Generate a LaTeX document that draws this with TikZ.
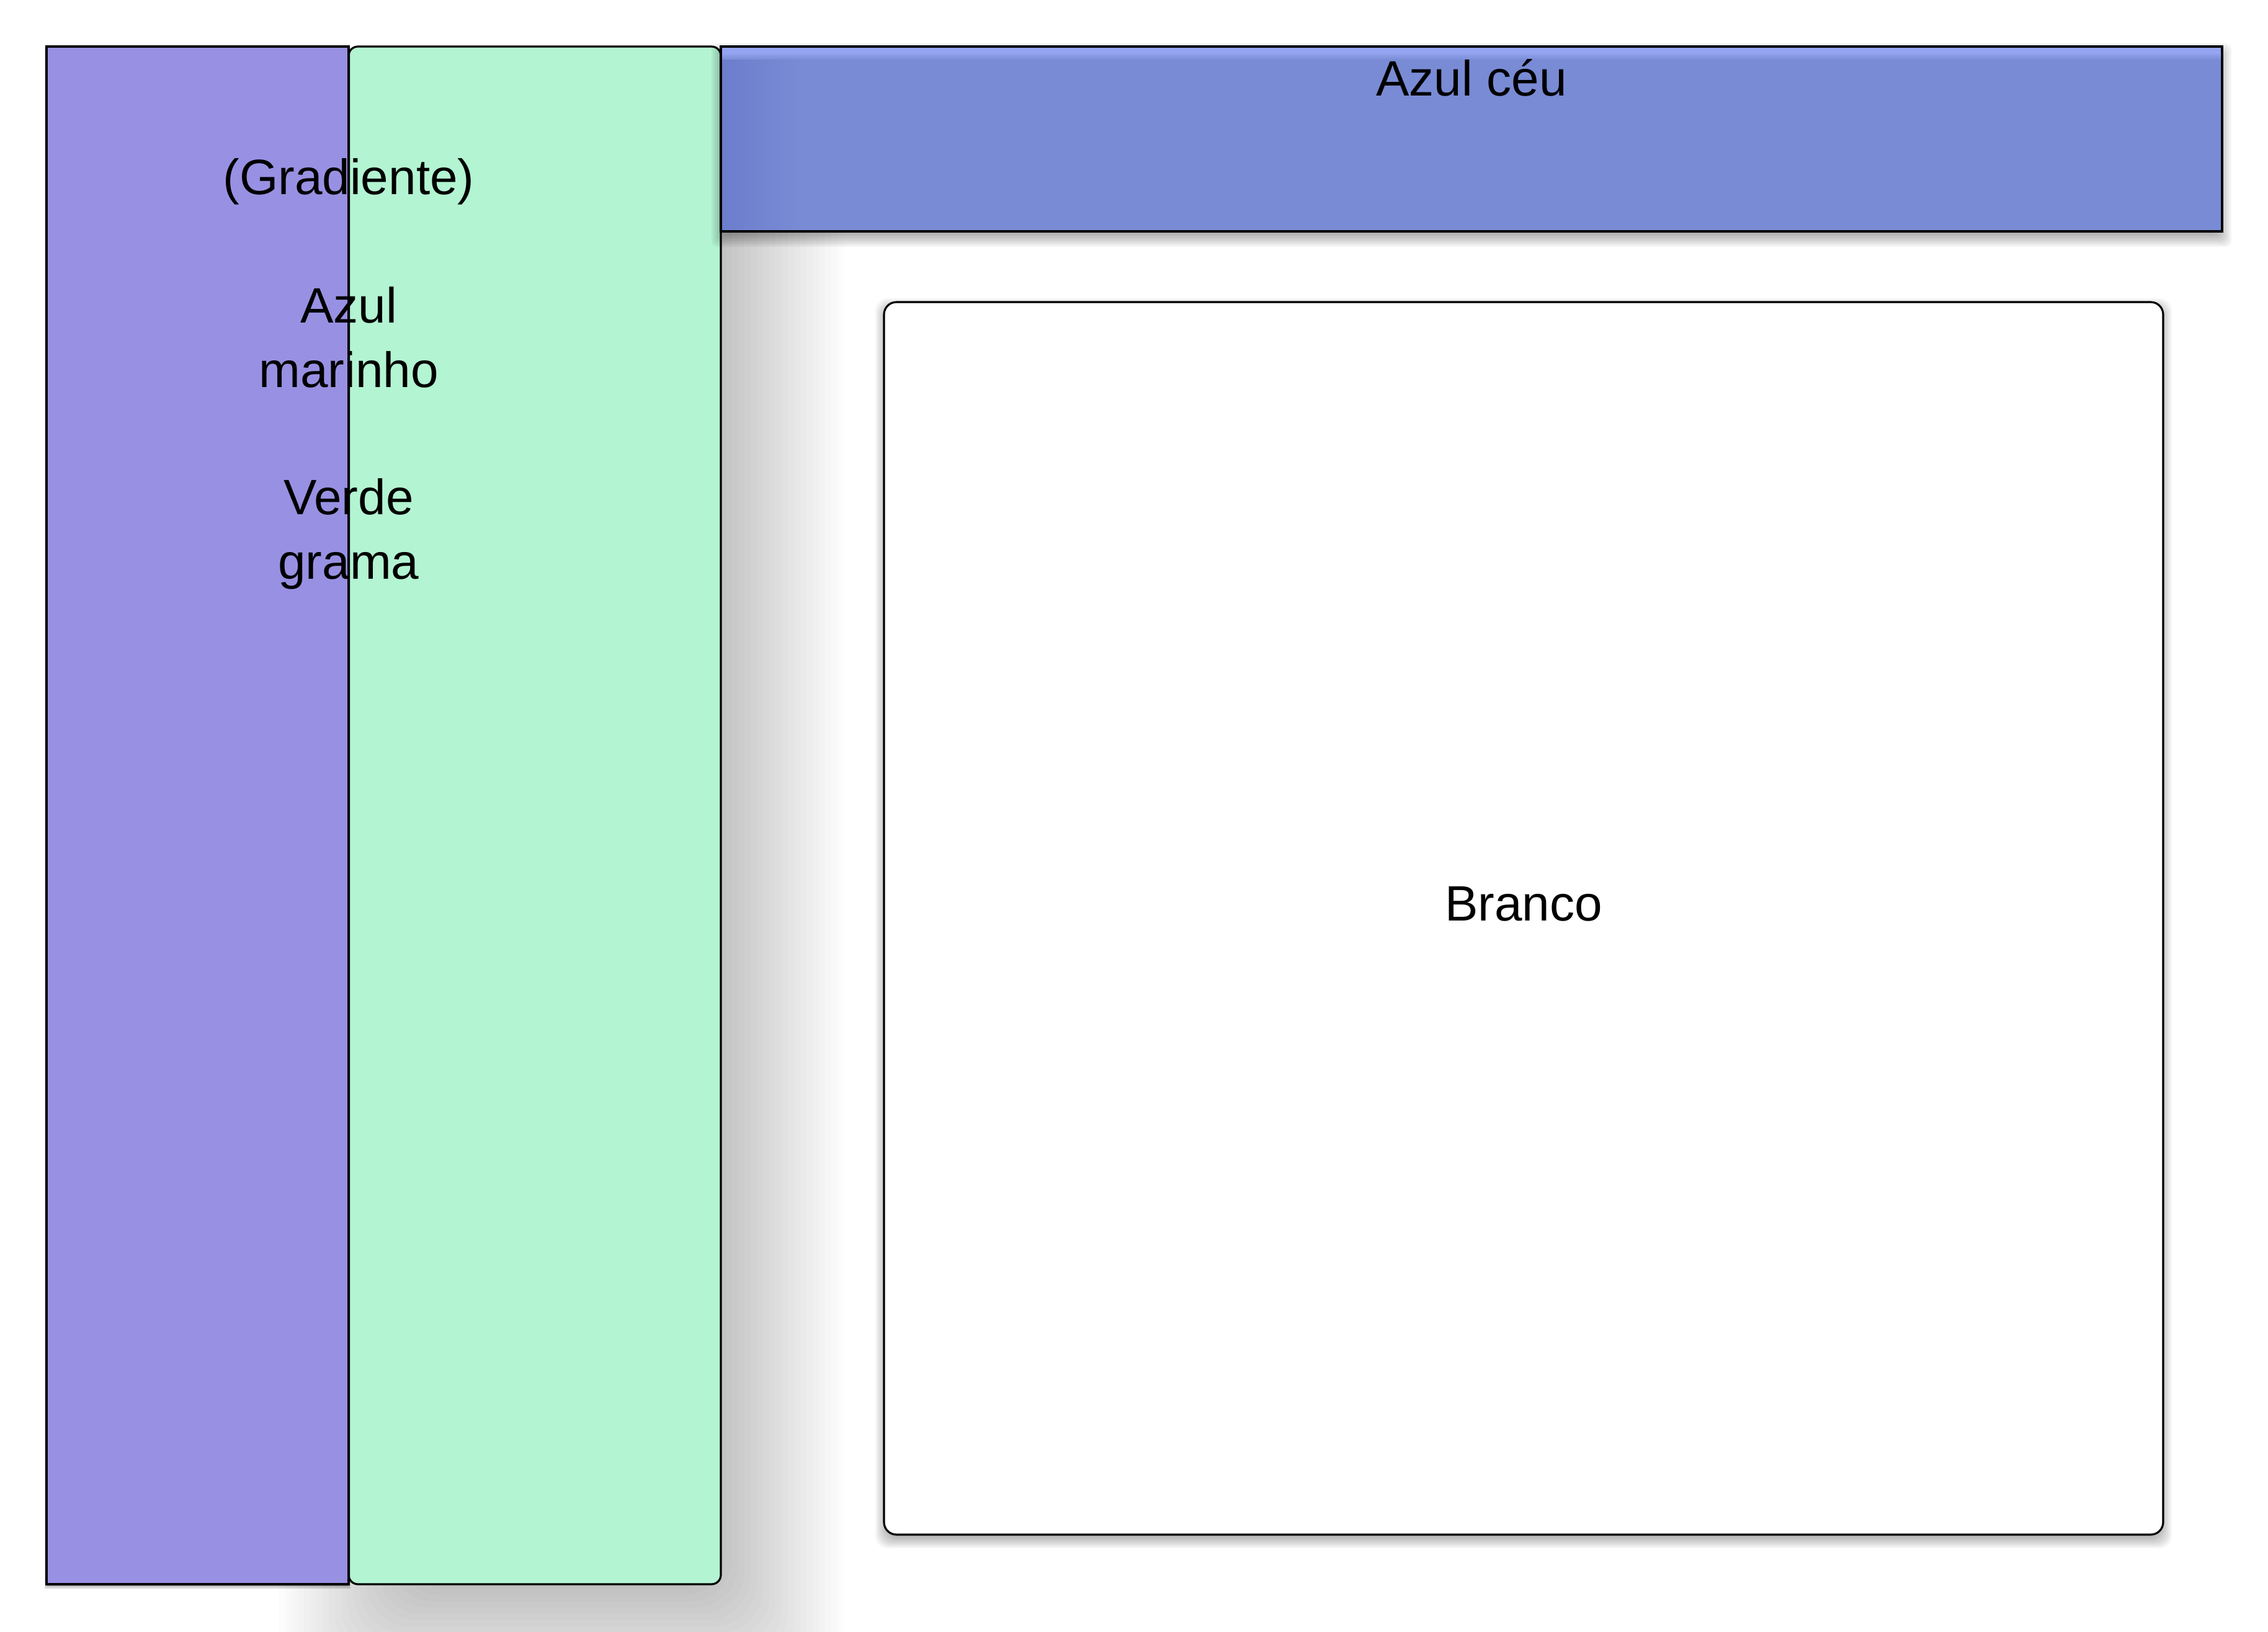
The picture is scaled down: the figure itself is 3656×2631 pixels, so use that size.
\documentclass[tikz,border=0pt]{standalone}
\usepackage{fontspec}
\setmainfont{Liberation Sans}
\definecolor{purpleF}{RGB}{152,145,227}
\definecolor{greenF}{RGB}{179,244,210}
\definecolor{hdrF}{RGB}{121,139,213}
\definecolor{hdrTop}{RGB}{148,164,240}
\definecolor{hdrDark}{RGB}{108,126,204}
\tikzset{
  panel/.style={draw=black, line width=0.9pt, inner sep=0pt, outer sep=0pt, anchor=north west},
  lbl/.style={font=\fontsize{22.8pt}{29.6pt}\selectfont, anchor=base, inner sep=0pt, text=black},
  shadowlayer/.style={fill=black, draw=none}
}
\begin{document}
\begin{tikzpicture}[x=0.1mm,y=-0.1mm]
\useasboundingbox[fill=white] (0,0) rectangle (3656,2631);
% large soft shadow of the green panel
\foreach \e in {-125,-115,...,125}{
  \fill[shadowlayer, fill opacity=0.0136, rounded corners=7mm]
    ({575-(\e)},{225-(\e)}) rectangle ({1235+\e},{2637+\e});
}
\node[panel, fill=greenF, rounded corners=1.5mm, minimum width=60mm, minimum height=247.9mm] (green) at (562,75) {};
% purple panel with a thin shadow
\foreach \e in {-3,0,3}{
  \fill[shadowlayer, fill opacity=0.15] ({75-(\e)},{79-(\e)}) rectangle ({562+\e},{2558+\e});
}
\node[panel, fill=purpleF, minimum width=48.7mm, minimum height=247.9mm] (purple) at (75,75) {};
% header shadow
\foreach \e in {-15,-12,...,15}{
  \fill[shadowlayer, fill opacity=0.045, rounded corners=1mm]
    ({1162-(\e)},{85-(\e)}) rectangle ({3582+\e},{383+\e});
}
\node[panel, fill=hdrF, minimum width=242mm, minimum height=29.8mm] (header) at (1162,75) {};
\fill[hdrTop] (1164,77) rectangle (3580,85);
\shade[top color=hdrTop, bottom color=hdrF] (1164,85) rectangle (3580,97);
\shade[left color=hdrDark, right color=hdrF] (1164,97) rectangle (1290,371);
% white panel shadow
\foreach \e in {-14,-12,...,14}{
  \fill[shadowlayer, fill opacity=0.03, rounded corners=2mm]
    ({1425-(\e)},{495-(\e)}) rectangle ({3487+\e},{2482+\e});
}
\node[panel, fill=white, rounded corners=2mm, minimum width=206.2mm, minimum height=198.7mm] (white) at (1425,487) {};
% labels
\node[lbl] (ceu) at (2372,155) {Azul céu};
\node[lbl] (branco) at (2456,1484) {Branco};
\node[lbl] (grad) at (562,314) {(Gradiente)};
\node[lbl] (azulA) at (562,521) {Azul};
\node[lbl] (azulB) at (562,625) {marinho};
\node[lbl] (verdeA) at (562,830) {Verde};
\node[lbl] (verdeB) at (562,934) {grama};
\end{tikzpicture}
\end{document}
